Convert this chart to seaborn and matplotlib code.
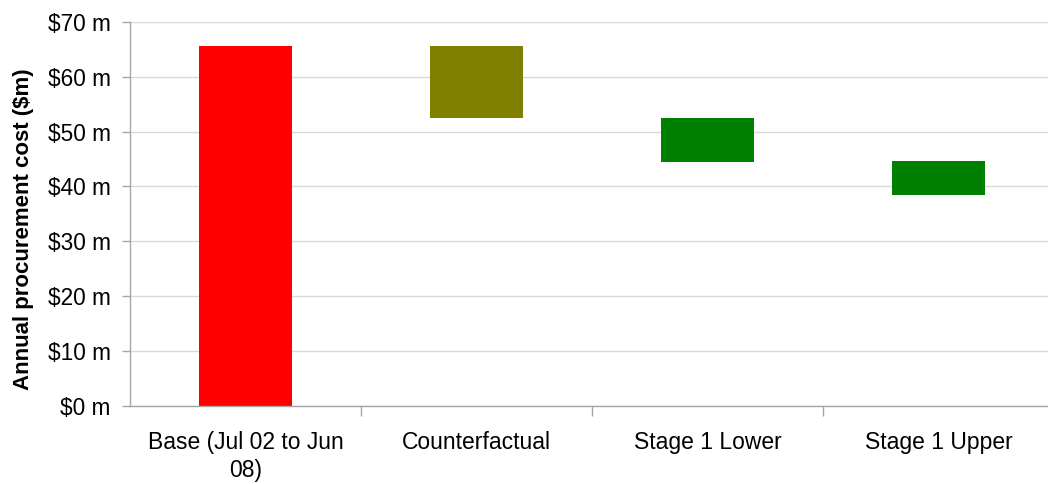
import matplotlib
matplotlib.use("Agg")
import matplotlib.pyplot as plt
import matplotlib.ticker as mticker
import seaborn as sns
import pandas as pd
import numpy as np

categories = ["Base (Jul 02 to Jun\n08)", "Counterfactual", "Stage 1 Lower", "Stage 1 Upper"]
bar_tops = [65.6, 65.6, 52.5, 44.6]
bar_bottoms = [0.0, 52.5, 44.5, 38.5]
bar_colors = ["#FF0000", "#808000", "#008000", "#008000"]
y_ticks = [0, 10, 20, 30, 40, 50, 60, 70]

sns.set_theme(style="white")
plt.rcParams['font.family'] = ['Liberation Sans', 'DejaVu Sans']

df = pd.DataFrame({
    "category": categories,
    "height": np.array(bar_tops) - np.array(bar_bottoms),
})

fig = plt.figure(figsize=(10.48, 4.84), dpi=100)
ax = fig.add_axes([130/1048, 1 - 405.7/484, (1054 - 130)/1048, (405.7 - 22)/484])

sns.barplot(data=df, x="category", y="height", bottom=bar_bottoms, width=0.4,
            color=bar_colors[0], ax=ax, errorbar=None, linewidth=0)
for patch, c in zip(ax.patches, bar_colors):
    patch.set_facecolor(c)
    patch.set_edgecolor(c)

ax.set_xlim(-0.5, 3.5)
ax.set_ylim(0, 70)
ax.set_yticks(y_ticks)
ax.yaxis.set_major_formatter(mticker.FuncFormatter(lambda v, p: f"${v:.0f} m"))
ax.grid(axis="y", color="#D9D9D9", linewidth=1)
ax.set_axisbelow(True)

for s in ["top", "right"]:
    ax.spines[s].set_visible(False)
for s in ["left", "bottom"]:
    ax.spines[s].set_color("#A6A6A6")
    ax.spines[s].set_linewidth(1)

ax.set_xlabel("")
ax.set_ylabel("Annual procurement cost ($m)", fontsize=16, fontweight="bold", color="black", labelpad=10)
ax.yaxis.label.set_y(0.46)

ax.tick_params(axis="y", which="major", left=True, length=6, color="#A6A6A6", width=1,
               labelsize=16.3, labelcolor="black", pad=8)
ax.set_xticks(range(len(categories)))
ax.set_xticklabels(categories, linespacing=1.3)
ax.tick_params(axis="x", which="major", bottom=False, length=0, labelsize=16.5, labelcolor="black", pad=18)
ax.set_xticks([0.5, 1.5, 2.5], minor=True)
ax.tick_params(axis="x", which="minor", bottom=True, length=7, color="#A6A6A6", width=1)

fig.savefig("out.png", dpi=100)
